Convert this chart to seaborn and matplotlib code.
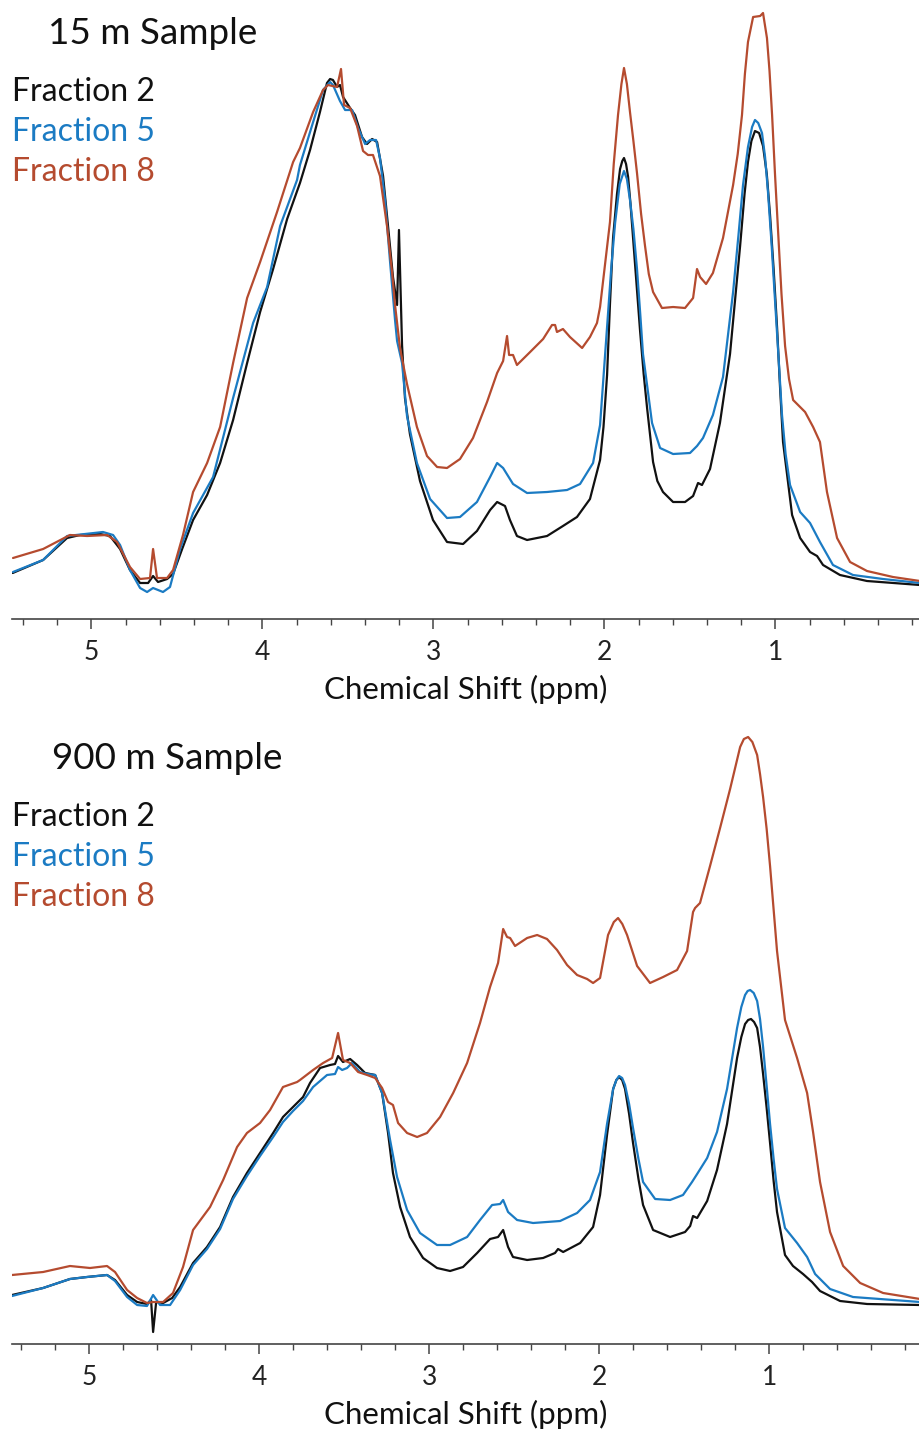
import matplotlib
matplotlib.use("Agg")
import matplotlib.pyplot as plt
from matplotlib.ticker import MultipleLocator, FormatStrFormatter
import seaborn as sns

# Spectra as (chemical shift in ppm, intensity in arbitrary units) pairs.

# ---------------- 15 m sample ----------------
f2_15m = [
    (5.460, 46), (5.282, 59), (5.142, 81), (5.066, 84), (4.949, 85), (4.891, 83),
    (4.832, 70), (4.774, 49), (4.715, 36), (4.668, 36), (4.639, 43), (4.610, 37),
    (4.557, 40), (4.522, 45), (4.469, 70), (4.405, 99), (4.323, 124), (4.247, 156),
    (4.171, 199), (4.089, 256), (4.013, 307), (3.937, 350), (3.855, 400), (3.780, 436),
    (3.721, 469), (3.663, 507), (3.622, 536), (3.604, 540), (3.587, 539), (3.563, 532),
    (3.546, 534), (3.528, 522), (3.487, 511), (3.458, 504), (3.417, 482), (3.388, 475),
    (3.358, 480), (3.329, 477), (3.294, 443), (3.265, 393), (3.236, 342), (3.212, 314),
    (3.201, 389), (3.183, 274), (3.166, 221), (3.137, 185), (3.078, 138), (3.002, 99),
    (2.920, 77), (2.826, 75), (2.745, 88), (2.668, 109), (2.627, 117), (2.581, 113),
    (2.552, 99), (2.511, 83), (2.452, 79), (2.335, 83), (2.242, 93), (2.160, 102),
    (2.084, 120), (2.025, 159), (2.005, 192), (1.984, 244), (1.967, 315), (1.949, 381),
    (1.926, 425), (1.908, 450), (1.895, 458), (1.885, 461), (1.873, 455), (1.861, 442),
    (1.847, 415), (1.832, 381), (1.791, 288), (1.770, 245), (1.750, 211), (1.715, 157),
    (1.690, 138), (1.657, 127), (1.598, 117), (1.528, 117), (1.481, 123), (1.452, 136),
    (1.429, 134), (1.382, 150), (1.324, 196), (1.265, 265), (1.206, 373), (1.180, 425),
    (1.160, 457), (1.140, 478), (1.119, 488), (1.095, 486), (1.072, 473), (1.050, 445),
    (1.031, 404), (1.010, 350), (0.990, 292), (0.972, 230), (0.955, 177), (0.902, 104),
    (0.855, 81), (0.797, 67), (0.756, 63), (0.721, 54), (0.622, 44), (0.464, 38),
    (0.154, 34),
]

f5_15m = [
    (5.458, 47), (5.282, 59), (5.142, 83), (4.932, 87), (4.873, 84), (4.832, 74),
    (4.774, 49), (4.715, 31), (4.674, 27), (4.639, 31), (4.581, 27), (4.540, 32),
    (4.481, 70), (4.405, 106), (4.288, 142), (4.171, 221), (4.054, 296), (3.972, 332),
    (3.896, 393), (3.797, 439), (3.780, 454), (3.703, 497), (3.645, 529), (3.604, 537),
    (3.587, 534), (3.546, 518), (3.516, 509), (3.475, 509), (3.440, 491), (3.399, 475),
    (3.370, 479), (3.335, 479), (3.312, 461), (3.282, 418), (3.253, 357), (3.224, 299),
    (3.212, 278), (3.183, 256), (3.154, 203), (3.096, 156), (3.019, 120), (2.920, 101),
    (2.844, 102), (2.745, 117), (2.668, 142), (2.627, 156), (2.592, 151), (2.534, 135),
    (2.452, 126), (2.335, 127), (2.218, 129), (2.142, 135), (2.066, 156), (2.025, 194),
    (1.984, 292), (1.960, 350), (1.937, 396), (1.910, 435), (1.885, 448), (1.868, 440),
    (1.850, 419), (1.830, 390), (1.809, 350), (1.790, 305), (1.774, 265), (1.721, 196),
    (1.674, 171), (1.598, 165), (1.499, 166), (1.458, 173), (1.423, 181), (1.365, 204),
    (1.306, 242), (1.247, 327), (1.215, 385), (1.189, 434), (1.160, 472), (1.136, 492),
    (1.119, 499), (1.100, 496), (1.078, 486), (1.060, 462), (1.043, 427), (1.022, 375),
    (1.002, 319), (0.980, 258), (0.961, 204), (0.940, 165), (0.914, 134), (0.855, 107),
    (0.797, 96), (0.739, 77), (0.663, 54), (0.546, 44), (0.370, 40), (0.154, 36),
]

f8_15m = [
    (5.458, 61), (5.282, 70), (5.125, 84), (5.025, 83), (4.908, 84), (4.850, 77),
    (4.774, 52), (4.715, 40), (4.657, 41), (4.639, 70), (4.616, 41), (4.557, 41),
    (4.522, 49), (4.464, 84), (4.405, 127), (4.323, 156), (4.247, 192), (4.171, 256),
    (4.089, 321), (4.013, 357), (3.914, 407), (3.820, 457), (3.780, 471), (3.703, 507),
    (3.645, 529), (3.616, 534), (3.563, 532), (3.540, 550), (3.522, 514), (3.487, 511),
    (3.446, 493), (3.411, 468), (3.382, 464), (3.353, 464), (3.312, 443), (3.271, 393),
    (3.241, 346), (3.224, 314), (3.195, 271), (3.154, 235), (3.096, 192), (3.037, 163),
    (2.978, 152), (2.920, 151), (2.844, 160), (2.768, 181), (2.686, 217), (2.627, 246),
    (2.592, 258), (2.569, 283), (2.557, 264), (2.534, 264), (2.511, 254), (2.434, 267),
    (2.358, 280), (2.306, 294), (2.288, 294), (2.277, 287), (2.242, 290), (2.201, 282),
    (2.130, 271), (2.084, 282), (2.043, 296), (2.025, 312), (1.967, 397), (1.945, 455),
    (1.920, 504), (1.900, 535), (1.885, 551), (1.868, 535), (1.850, 507), (1.830, 478),
    (1.809, 446), (1.785, 405), (1.762, 373), (1.740, 345), (1.715, 327), (1.663, 311),
    (1.598, 312), (1.528, 311), (1.481, 321), (1.458, 350), (1.440, 342), (1.405, 335),
    (1.365, 346), (1.306, 381), (1.247, 434), (1.220, 465), (1.195, 504), (1.178, 545),
    (1.160, 577), (1.130, 602), (1.089, 603), (1.072, 606), (1.049, 581), (1.034, 548),
    (1.019, 504), (1.002, 445), (0.984, 388), (0.964, 325), (0.943, 273), (0.920, 240),
    (0.896, 219), (0.826, 207), (0.779, 192), (0.739, 177), (0.698, 127), (0.639, 81),
    (0.563, 57), (0.464, 48), (0.312, 42), (0.154, 38),
]

# ---------------- 900 m sample ----------------
f2_900m = [
    (5.455, 49), (5.272, 56), (5.114, 65), (5.014, 67), (4.896, 69), (4.849, 64),
    (4.778, 49), (4.719, 42), (4.661, 40), (4.637, 44), (4.625, 12), (4.607, 42),
    (4.566, 41), (4.513, 46), (4.466, 57), (4.390, 81), (4.308, 97), (4.231, 117),
    (4.155, 147), (4.073, 171), (3.996, 191), (3.919, 211), (3.861, 227), (3.802, 237),
    (3.743, 247), (3.702, 261), (3.643, 276), (3.584, 279), (3.555, 280), (3.537, 288),
    (3.508, 282), (3.466, 285), (3.425, 279), (3.378, 271), (3.319, 269), (3.278, 251),
    (3.243, 211), (3.214, 171), (3.172, 137), (3.114, 107), (3.037, 86), (2.955, 76),
    (2.878, 73), (2.802, 77), (2.719, 91), (2.643, 105), (2.596, 107), (2.566, 114),
    (2.537, 97), (2.508, 87), (2.425, 84), (2.331, 86), (2.261, 91), (2.243, 95),
    (2.213, 92), (2.113, 101), (2.037, 117), (1.996, 149), (1.955, 209), (1.919, 255),
    (1.900, 264), (1.884, 267), (1.866, 264), (1.849, 255), (1.825, 230), (1.802, 201),
    (1.770, 165), (1.743, 139), (1.684, 114), (1.584, 107), (1.496, 112), (1.466, 118),
    (1.449, 128), (1.425, 126), (1.366, 143), (1.308, 174), (1.249, 220), (1.190, 286),
    (1.165, 307), (1.143, 320), (1.125, 324), (1.108, 325), (1.090, 322), (1.072, 316),
    (1.055, 297), (1.037, 270), (1.016, 236), (0.996, 201), (0.975, 163), (0.955, 132),
    (0.908, 89), (0.861, 78), (0.802, 70), (0.749, 62), (0.702, 53), (0.584, 43),
    (0.425, 40), (0.114, 39),
]

f5_900m = [
    (5.455, 48), (5.272, 56), (5.114, 65), (5.014, 67), (4.896, 69), (4.849, 63),
    (4.778, 47), (4.719, 39), (4.661, 38), (4.625, 49), (4.584, 39), (4.525, 39),
    (4.466, 54), (4.390, 79), (4.308, 95), (4.231, 115), (4.155, 145), (4.073, 168),
    (3.996, 188), (3.919, 207), (3.861, 222), (3.802, 233), (3.743, 243), (3.684, 257),
    (3.602, 269), (3.555, 270), (3.537, 277), (3.513, 274), (3.484, 276), (3.455, 281),
    (3.408, 272), (3.366, 270), (3.319, 269), (3.278, 251), (3.231, 204), (3.190, 167),
    (3.131, 134), (3.055, 111), (2.955, 99), (2.878, 99), (2.778, 107), (2.702, 124),
    (2.631, 139), (2.584, 140), (2.566, 144), (2.537, 132), (2.484, 124), (2.390, 121),
    (2.231, 123), (2.131, 131), (2.055, 144), (1.996, 172), (1.955, 220), (1.919, 255),
    (1.900, 264), (1.884, 268), (1.866, 266), (1.849, 259), (1.825, 240), (1.802, 216),
    (1.770, 185), (1.743, 162), (1.672, 145), (1.584, 144), (1.508, 149), (1.455, 162),
    (1.425, 170), (1.366, 186), (1.308, 212), (1.249, 255), (1.190, 316), (1.165, 337),
    (1.143, 349), (1.128, 353), (1.113, 354), (1.092, 351), (1.072, 343), (1.055, 325),
    (1.037, 297), (1.016, 258), (0.996, 220), (0.975, 185), (0.955, 155), (0.908, 116),
    (0.837, 101), (0.778, 87), (0.731, 70), (0.643, 55), (0.508, 47), (0.114, 42),
]

f8_900m = [
    (5.455, 69), (5.272, 72), (5.114, 78), (4.996, 76), (4.896, 78), (4.849, 72),
    (4.778, 54), (4.719, 46), (4.661, 41), (4.625, 42), (4.566, 42), (4.508, 51),
    (4.449, 77), (4.390, 114), (4.290, 137), (4.213, 164), (4.131, 197), (4.073, 211),
    (3.996, 221), (3.937, 234), (3.861, 257), (3.778, 262), (3.761, 264), (3.684, 274),
    (3.625, 281), (3.572, 286), (3.537, 311), (3.508, 284), (3.466, 281), (3.419, 272),
    (3.366, 269), (3.319, 266), (3.278, 256), (3.243, 242), (3.214, 239), (3.184, 221),
    (3.131, 211), (3.072, 207), (3.014, 211), (2.937, 227), (2.860, 251), (2.778, 281),
    (2.702, 321), (2.643, 357), (2.596, 381), (2.566, 415), (2.543, 407), (2.525, 406),
    (2.496, 398), (2.425, 406), (2.366, 409), (2.308, 405), (2.249, 394), (2.190, 379),
    (2.131, 369), (2.072, 365), (2.037, 361), (1.996, 366), (1.949, 409), (1.915, 422),
    (1.890, 426), (1.865, 420), (1.837, 409), (1.778, 378), (1.702, 361), (1.625, 367),
    (1.543, 374), (1.484, 393), (1.449, 432), (1.437, 436), (1.408, 441), (1.349, 478),
    (1.290, 516), (1.231, 555), (1.172, 597), (1.150, 605), (1.125, 607), (1.100, 602),
    (1.072, 589), (1.055, 570), (1.037, 547), (1.016, 515), (0.996, 478), (0.955, 393),
    (0.908, 324), (0.837, 286), (0.778, 251), (0.743, 212), (0.702, 162), (0.643, 112),
    (0.566, 78), (0.466, 61), (0.331, 51), (0.114, 45),
]

labels = ["Fraction 2", "Fraction 5", "Fraction 8"]
colors = ["#111111", "#1b7bc3", "#b54b2f"]
titles = ["15 m Sample", "900 m Sample"]
xlims = [(5.464, 0.154), (5.455, 0.114)]
spectra = [[f2_15m, f5_15m, f8_15m], [f2_900m, f5_900m, f8_900m]]

sns.set_theme(style="white")
plt.rcParams["font.family"] = ["Lato", "DejaVu Sans"]

W, H = 920, 1437
fig = plt.figure(figsize=(W / 100, H / 100), dpi=100)

# axes placement in pixels: (left, axis-line y, top y)
axes_px = [(12, 619, 0), (12, 1344, 725)]
title_x = [48, 52]

for i, (title, xlim, series) in enumerate(zip(titles, xlims, spectra)):
    left, ybot, ytop = axes_px[i]
    ax = fig.add_axes([left / W, 1 - ybot / H, (W - left) / W, (ybot - ytop) / H])
    for pairs, col in zip(series, colors):
        ppm = [p for p, _ in pairs]
        inten = [v for _, v in pairs]
        sns.lineplot(x=ppm, y=inten, ax=ax, color=col, linewidth=1.6,
                     sort=False, estimator=None, solid_joinstyle="round")
    ax.set_xlim(*xlim)
    ax.set_ylim(0, ybot - ytop)
    for s in ["left", "right", "top"]:
        ax.spines[s].set_visible(False)
    ax.spines["bottom"].set_color("#444444")
    ax.spines["bottom"].set_linewidth(1.2)
    ax.set_yticks([])
    ax.xaxis.set_major_locator(MultipleLocator(1))
    ax.xaxis.set_minor_locator(MultipleLocator(0.2))
    ax.xaxis.set_major_formatter(FormatStrFormatter("%d"))
    ax.tick_params(axis="x", which="major", direction="out", length=7, width=1.1,
                   color="#444444", labelsize=19, pad=8, labelcolor="#222222", bottom=True)
    ax.tick_params(axis="x", which="minor", direction="out", length=4, width=1.0,
                   color="#444444", bottom=True)
    ax.set_xlabel("Chemical Shift (ppm)", fontsize=22.5, color="#111111", labelpad=7)
    ax.set_ylabel("")

    fig.text(title_x[i] / W, 1 - (ytop + 44) / H, title, fontsize=26.5,
             color="#111111", va="baseline", ha="left")
    for k, (lab, col) in enumerate(zip(labels, colors)):
        fig.text(12 / W, 1 - (ytop + 101 + 40 * k) / H, lab, fontsize=23,
                 color=col, va="baseline", ha="left")

fig.savefig("out.png", dpi=100)
